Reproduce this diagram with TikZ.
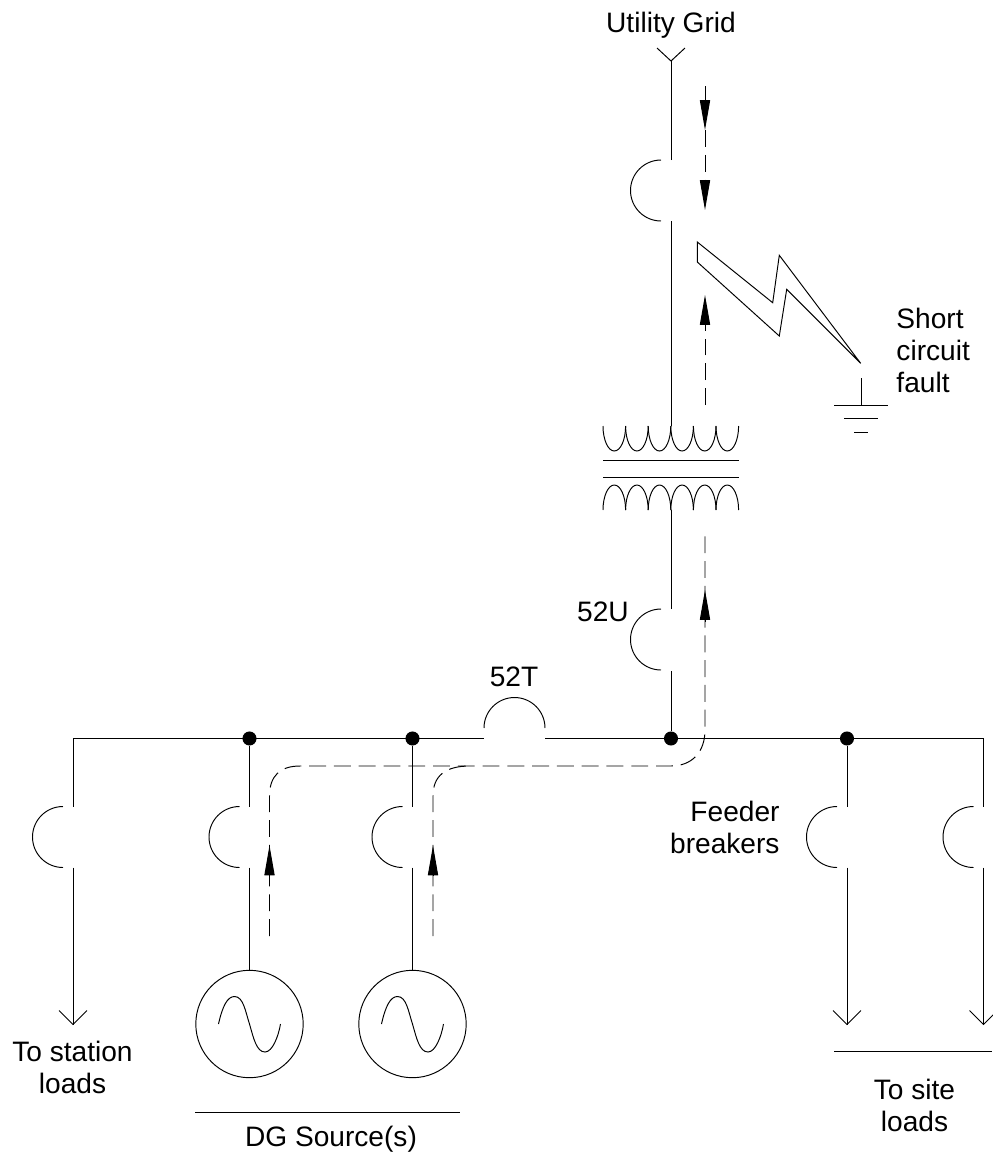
\documentclass[tikz,border=0pt]{standalone}
\usepackage{fontspec}
\setmainfont{Liberation Sans}
\usetikzlibrary{arrows.meta}

\begin{document}

\begin{tikzpicture}[x = 0.02cm, y = 0.02cm, line width = 0.55pt,
	flow/.style = {line width = 0.55pt, dash pattern = on 9.6pt off 4.5pt},
	head/.style = {-{Triangle[length = 17pt, width = 5.8pt]}},
	dotnode/.style = {circle, fill, inner sep = 0pt, minimum size = 8pt},
	gennode/.style = {circle, draw, inner sep = 0pt, minimum size = 107.4 * 0.02cm},
	label/.style = {align = center, font = \fontsize{16pt}{18.2pt}\selectfont, inner sep = 0pt}]

	\useasboundingbox (0, 0) rectangle (992, -1154);

	% Definitions

	\def\R{30.5}		% Breaker arc radius
	\def\busY{-738.5}	% Bus height
	\def\mainX{671}		% Utility riser
	\def\flowX{705}		% Fault current beside the riser

	% Bus with the tie breaker 52T

	\coordinate (busl) at (73, \busY);
	\coordinate (busr) at (983.5, \busY);
	\coordinate (tiel) at (484, \busY);
	\coordinate (tier) at (545, \busY);
	\draw (busl) -- (tiel);
	\draw (tier) -- (busr);
	\draw (484, -728) arc [start angle = 180, end angle = 0, radius = \R];

	% Junctions on the bus

	\node (dota) [dotnode] at (249.5, \busY) {};
	\node (dotb) [dotnode] at (412.5, \busY) {};
	\node (dotc) [dotnode] at (\mainX, \busY) {};
	\node (dotd) [dotnode] at (847, \busY) {};

	% Feeder breakers

	\foreach \name/\x in {sta/73, dga/249.5, dgb/412.5, fda/847, fdb/983.5} {
		\coordinate (top\name) at (\x, -806.5);
		\coordinate (bot\name) at (\x, -867.5);
		\draw (\x - 10, -806.5) arc [start angle = 90, end angle = 270, radius = \R];
	}

	\draw (busl) -- (topsta);
	\draw (dota) -- (topdga);
	\draw (dotb) -- (topdgb);
	\draw (dotd) -- (topfda);
	\draw (busr) -- (topfdb);

	% Load arrows

	\foreach \name/\x in {sta/73, fda/847, fdb/983.5} {
		\coordinate (tip\name) at (\x, -1024.5);
		\coordinate (armL\name) at (\x - 14, -1010.5);
		\coordinate (armR\name) at (\x + 14, -1010.5);
		\draw (bot\name) -- (tip\name);
		\draw (armL\name) -- (tip\name) -- (armR\name);
	}

	% DG sources

	\node (gena) [gennode] at (249.5, -1024) {};
	\node (genb) [gennode] at (412.5, -1024) {};
	\draw (botdga) -- (gena);
	\draw (botdgb) -- (genb);

	\foreach \x in {249.5, 412.5} {
		\draw [xshift = \x * 0.02cm, yshift = -1024 * 0.02cm] (-31, 0) .. controls (-27, 18) and (-22, 27.5) .. (-15, 27.5)
			.. controls (-6, 27.5) and (-4, 12) .. (0, 0)
			.. controls (4, -14) and (7, -28) .. (15.5, -28)
			.. controls (23, -28) and (29, -12) .. (31, 0);
	}

	% Riser up to the utility grid

	\coordinate (riserbot) at (\mainX, -670.5);
	\coordinate (risertop) at (\mainX, -609);
	\coordinate (lvcoil) at (\mainX, -510);
	\coordinate (hvcoil) at (\mainX, -426);
	\coordinate (brkbot) at (\mainX, -221);
	\coordinate (brktop) at (\mainX, -160);
	\coordinate (gridtip) at (\mainX, -61);
	\coordinate (gridL) at (657, -48);
	\coordinate (gridR) at (685, -48);

	\draw (dotc) -- (riserbot);
	\draw (risertop) -- (lvcoil);
	\draw (hvcoil) -- (brkbot);
	\draw (brktop) -- (gridtip);
	\draw (gridL) -- (gridtip) -- (gridR);

	\draw (661, -609) arc [start angle = 90, end angle = 270, radius = \R];
	\draw (661, -160) arc [start angle = 90, end angle = 270, radius = \R];

	% Transformer

	\foreach \i in {0, ..., 5} {
		\draw (603 + \i * 22.6, -426) arc [start angle = 180, end angle = 360, x radius = 11.3, y radius = 25];
		\draw (603 + \i * 22.6, -510) arc [start angle = 180, end angle = 0, x radius = 11.3, y radius = 25];
	}
	\draw (603, -460) -- (739, -460);
	\draw (603, -477) -- (739, -477);

	% Fault

	\draw (697.3, -242) -- (772.7, -302.7) -- (779.3, -255.3) -- (860.7, -363.3) -- (786.7, -289.3) -- (779.3, -336) -- (697.3, -262) -- cycle;

	\coordinate (gndtop) at (861, -378);
	\coordinate (gndbot) at (861, -405);
	\draw (gndtop) -- (gndbot);
	\draw (834, -405) -- (888, -405);
	\draw (844, -418) -- (878, -418);
	\draw (854, -432) -- (868, -432);

	% Fault current from the grid

	\coordinate (flowa) at (\flowX, -86);
	\coordinate (flowb) at (\flowX, -130);
	\coordinate (flowc) at (\flowX, -210);
	\draw [flow, head] (flowa) -- (flowb);
	\draw [flow, head] (flowb) -- (flowc);

	% Fault current from the transformer side

	\coordinate (flowd) at (\flowX, -405);
	\coordinate (flowe) at (\flowX, -295);
	\draw [flow, head] (flowd) -- (flowe);

	% Fault current from the DG sources

	\coordinate (flowf) at (\flowX, -590);
	\draw [flow] (269.5, -936) -- (269.5, -796) .. controls (269.5, -776) and (280, -766) .. (300, -766)
		-- (671, -766) .. controls (692, -766) and (\flowX, -752) .. (\flowX, -730) -- (\flowX, -534);
	\draw [flow] (433, -936) -- (433, -796) .. controls (433, -776) and (445, -766) .. (470, -766);
	\draw [flow, head] (\flowX, -622) -- (flowf);
	\draw [flow, head] (269.5, -875) -- (269.5, -845.5);
	\draw [flow, head] (433, -875) -- (433, -845.5);

	% Rules under the groups

	\draw (195, -1112.5) -- (460, -1112.5);
	\draw (834, -1051) -- (992, -1051);

	% Labels

	\node (grid) [label, anchor = base] at (\mainX, -32) {Utility Grid};
	\node (fault) [label, align = left, anchor = west] at (896, -350) {Short\\circuit\\fault};
	\node (ubrk) [label] at (603, -612) {52U};
	\node (tbrk) [label] at (514, -677) {52T};
	\node (feed) [label, align = right, anchor = east] at (780, -827) {Feeder\\breakers};
	\node (stat) [label] at (72.5, -1067) {To station\\loads};
	\node (dgsrc) [label, anchor = base] at (331, -1146) {DG Source(s)};
	\node (site) [label] at (914.5, -1105) {To site\\loads};

\end{tikzpicture}

\end{document}
